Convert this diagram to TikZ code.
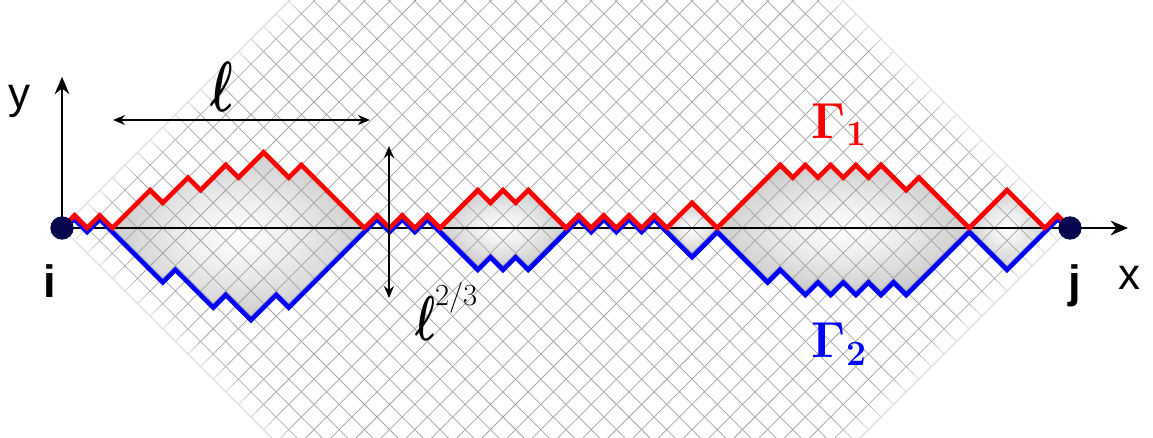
\RequirePackage{fix-cm}
\documentclass[tikz,border=0pt]{standalone}
\usepackage{amsmath}
\usepackage[no-math]{fontspec}
\newfontfamily\labfont{Liberation Sans}
\usetikzlibrary{arrows.meta}
\definecolor{dotblue}{RGB}{8,8,80}
\pgfdeclareradialshading{lens}{\pgfpoint{0bp}{0bp}}{color(0bp)=(white); color(10bp)=(white!94!black); color(30bp)=(white!76!black); color(50bp)=(white!76!black)}

\begin{document}
\begin{tikzpicture}[x=9.45pt,y=9.45pt,
  gridline/.style={draw=black!36,line width=0.55pt},
  edgefade/.style={fill=white,opacity=#1},
  lensfill/.style={shading=lens},
  pathone/.style={draw=red,line width=3.5pt},
  pathtwo/.style={draw=blue,line width=3.5pt,yshift=-3pt},
  axis/.style={line width=1.6pt,-{Stealth[length=13pt,width=11pt]}},
  dimline/.style={line width=1.1pt,{Stealth[length=9pt,width=7.5pt]}-{Stealth[length=9pt,width=7.5pt]}},
  dot/.style={circle,fill=dotblue,inner sep=0pt,minimum size=17.5pt},
  axlabel/.style={font=\labfont\fontsize{33}{36}\selectfont,inner sep=0pt},
  ptlabel/.style={font=\labfont\bfseries\fontsize{34}{38}\selectfont,inner sep=0pt}]
	\useasboundingbox (-4.921,-16.667) rectangle (86.587,18.095);
	\coordinate (ipt) at (0,0);
	\coordinate (jpt) at (80,0);
	\coordinate (xend) at (84.6,0);
	\coordinate (yend) at (0,12);
	% lattice and the regions between the two paths
	\begin{scope}
		\clip (-4.921,-16.667) rectangle (86.587,18.095);
		\shade[lensfill] (4,0) -- (7,3) -- (8,2) -- (10,4) -- (11,3) -- (13,5) -- (14,4) -- (16,6) -- (18,4) -- (19,5) -- (24,0)
			-- (18,-6) -- (17,-5) -- (15,-7) -- (13,-5) -- (12,-6) -- (9,-3) -- (8,-4) -- cycle;
		\shade[lensfill] (30,0) -- (33,3) -- (34,2) -- (35,3) -- (36,2) -- (37,3) -- (40,0)
			-- (37,-3) -- (36,-2) -- (35,-3) -- (34,-2) -- (33,-3) -- cycle;
		\shade[lensfill] (48,0) -- (50,2) -- (52,0) -- (50,-2) -- cycle;
		\shade[lensfill] (52,0) -- (57,5) -- (58,4) -- (59,5) -- (60,4) -- (61,5) -- (62,4) -- (63,5) -- (64,4) -- (65,5) -- (67,3) -- (68,4) -- (72,0)
			-- (67,-5) -- (66,-4) -- (65,-5) -- (64,-4) -- (63,-5) -- (62,-4) -- (61,-5) -- (60,-4) -- (59,-5) -- (57,-3) -- (56,-4) -- cycle;
		\shade[lensfill] (72,0) -- (75,3) -- (78,0) -- (75,-3) -- cycle;
		\foreach \m in {0,...,40}{
			\draw[gridline] (\m,-\m) -- ++(40,40);
			\draw[gridline] (\m,\m) -- ++(40,-40);
		}
		% the lattice fades out at its rim
		\foreach \d/\o in {0.8/0.35,1.6/0.25,2.4/0.15}{
			\fill[edgefade=\o] (0,-0.3) -- (40.3,-40) -- (40+\d/2,-40+\d/2) -- (\d/2,\d/2) -- cycle;
			\fill[edgefade=\o] (0,0.3) -- (40.3,40) -- (40+\d/2,40-\d/2) -- (\d/2,-\d/2) -- cycle;
			\fill[edgefade=\o] (80,0.3) -- (39.7,40) -- (40-\d/2,40-\d/2) -- (80-\d/2,-\d/2) -- cycle;
			\fill[edgefade=\o] (80,-0.3) -- (39.7,-40) -- (40-\d/2,-40+\d/2) -- (80-\d/2,\d/2) -- cycle;
		}
	\end{scope}
	% axes
	\draw[axis] (ipt) -- (xend);
	\draw[axis] (ipt) -- (yend);
	\node[axlabel,anchor=base] (ylab) at (-3.41,9.52) {y};
	\node[axlabel,anchor=base] (xlab) at (84.7,-4.92) {x};
	% the two paths
	\draw[pathtwo] (ipt) -- (1,1) -- (2,0) -- (3,1) -- (4,0) -- (8,-4) -- (9,-3) -- (12,-6) -- (13,-5) -- (15,-7) -- (17,-5) -- (18,-6)
		-- (25,1) -- (26,0) -- (27,1) -- (28,0) -- (29,1) -- (30,0) -- (33,-3) -- (34,-2) -- (35,-3) -- (36,-2) -- (37,-3)
		-- (41,1) -- (42,0) -- (43,1) -- (44,0) -- (45,1) -- (46,0) -- (47,1) -- (50,-2) -- (52,0) -- (56,-4) -- (57,-3)
		-- (59,-5) -- (60,-4) -- (61,-5) -- (62,-4) -- (63,-5) -- (64,-4) -- (65,-5) -- (66,-4) -- (67,-5) -- (72,0) -- (75,-3)
		-- (79,1) -- (jpt);
	\draw[pathone] (ipt) -- (1,1) -- (2,0) -- (3,1) -- (4,0) -- (7,3) -- (8,2) -- (10,4) -- (11,3) -- (13,5) -- (14,4) -- (16,6)
		-- (18,4) -- (19,5) -- (24,0) -- (25,1) -- (26,0) -- (27,1) -- (28,0) -- (29,1) -- (30,0) -- (33,3) -- (34,2) -- (35,3)
		-- (36,2) -- (37,3) -- (40,0) -- (41,1) -- (42,0) -- (43,1) -- (44,0) -- (45,1) -- (46,0) -- (47,1) -- (48,0) -- (50,2)
		-- (52,0) -- (57,5) -- (58,4) -- (59,5) -- (60,4) -- (61,5) -- (62,4) -- (63,5) -- (64,4) -- (65,5) -- (67,3) -- (68,4)
		-- (72,0) -- (75,3) -- (78,0) -- (79,1) -- (jpt);
	\node[dot] (i) at (ipt) {};
	\node[dot] (j) at (jpt) {};
	\node[ptlabel,anchor=base] (ilab) at (-0.95,-5.48) {i};
	\node[ptlabel,anchor=base] (jlab) at (80.4,-5.48) {j};
	% scales
	\coordinate (lenL) at (4.05,8.57);
	\coordinate (lenR) at (24.44,8.57);
	\draw[dimline] (lenL) -- (lenR);
	\node[anchor=base,inner sep=0pt] (lenlab) at (12.7,9.21) {\resizebox{17pt}{37pt}{$\boldsymbol{\ell}$}};
	\coordinate (htT) at (25.95,6.5);
	\coordinate (htB) at (25.95,-5.56);
	\draw[dimline] (htT) -- (htB);
	\node[anchor=base west,inner sep=0pt] (htlab) at (28.0,-8.9) {\resizebox{15pt}{33pt}{$\boldsymbol{\ell}$}\raisebox{26pt}{\fontsize{23}{25}\selectfont 2/3}};
	% path names
	\node[anchor=base west,inner sep=0pt,text=red] (gamone) at (59.5,7.14) {\fontsize{38}{42}\selectfont$\mathbf{\Gamma}_{\mathbf{1}}$};
	\node[anchor=base west,inner sep=0pt,text=blue] (gamtwo) at (59.5,-10.3) {\fontsize{38}{42}\selectfont$\mathbf{\Gamma}_{\mathbf{2}}$};
\end{tikzpicture}
\end{document}
